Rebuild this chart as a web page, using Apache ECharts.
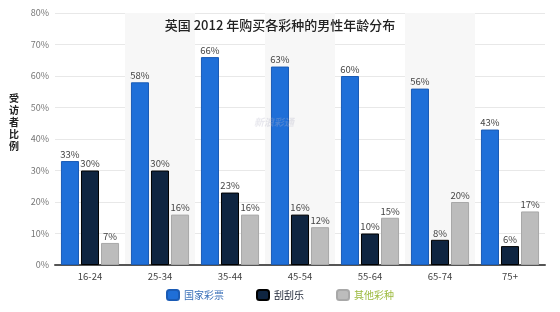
<!DOCTYPE html>
<html><head><meta charset="utf-8">
<script src="https://cdn.jsdelivr.net/npm/echarts@6/dist/echarts.min.js"></script>
<style>html,body{margin:0;padding:0;background:#fff}#c{width:560px;height:312px}</style>
</head><body><div id="c"></div>
<script>
const categories = ['16-24','25-34','35-44','45-54','55-64','65-74','75+'];
const seriesNames = ['国家彩票','刮刮乐','其他彩种'];
const nationalLottery = [33,58,66,63,60,56,43];
const scratchCards = [30,30,23,16,10,8,6];
const otherGames = [7,16,16,12,15,20,17];
const yTicks = [0,10,20,30,40,50,60,70,80];

const chart = echarts.init(document.getElementById('c'));
const font = '"Noto Sans CJK SC", sans-serif';
const lbl = {show:true, position:'top', formatter:'{c}%', fontSize:9.5, color:'#444', fontFamily:font, distance:2};
chart.setOption({
  animation:false,
  title:{text:'英国 2012 年购买各彩种的男性年龄分布', left:'center', top:14,
    textStyle:{fontSize:13, fontWeight:500, color:'#222', fontFamily:font}},
  graphic:[
    {type:'text', left:9, top:92, z:10, style:{text:'受\n访\n者\n比\n例', fontSize:10, lineHeight:12, fontWeight:'bold', fill:'#222', fontFamily:font}},
    {type:'text', left:254, top:117, z:100, style:{text:'新浪彩通', fontSize:10, fontStyle:'italic', fontWeight:'bold', fill:'rgba(180,180,200,0.3)', fontFamily:font}}
  ],
  legend:{bottom:6, left:'center', itemWidth:12, itemHeight:10, itemGap:32, icon:'roundRect',
    data:seriesNames.map((n,i)=>({name:n, textStyle:{color:['#3a70b8','#1a2233','#9cba3e'][i]}})),
    textStyle:{fontSize:10, fontFamily:font}},
  grid:{left:55, right:15, top:13, bottom:47},
  xAxis:{type:'category', data:categories,
    axisLine:{lineStyle:{color:'#555', width:2}}, axisTick:{show:false},
    axisLabel:{color:'#444', fontSize:9.5, margin:7, fontFamily:font},
    splitArea:{show:true, areaStyle:{color:['rgba(255,255,255,0)','#f7f7f7']}}},
  yAxis:{type:'value', min:yTicks[0], max:yTicks[yTicks.length-1], interval:10,
    axisLine:{show:false}, axisTick:{show:false},
    axisLabel:{formatter:'{value}%', color:'#777', fontSize:9, margin:6, fontFamily:font},
    splitLine:{lineStyle:{color:'#e8e8e8'}}},
  series:[
    {name:seriesNames[0], type:'bar', data:nationalLottery, barGap:'11%', barCategoryGap:'17%',
      itemStyle:{color:'#1f6fd8', borderColor:'#1a5bb5', borderWidth:1}, label:lbl},
    {name:seriesNames[1], type:'bar', data:scratchCards,
      itemStyle:{color:'#0f2541', borderColor:'#000', borderWidth:1}, label:lbl},
    {name:seriesNames[2], type:'bar', data:otherGames,
      itemStyle:{color:'#bcbcbc', borderColor:'#a8a8a8', borderWidth:1}, label:lbl}
  ]
});
</script></body></html>
